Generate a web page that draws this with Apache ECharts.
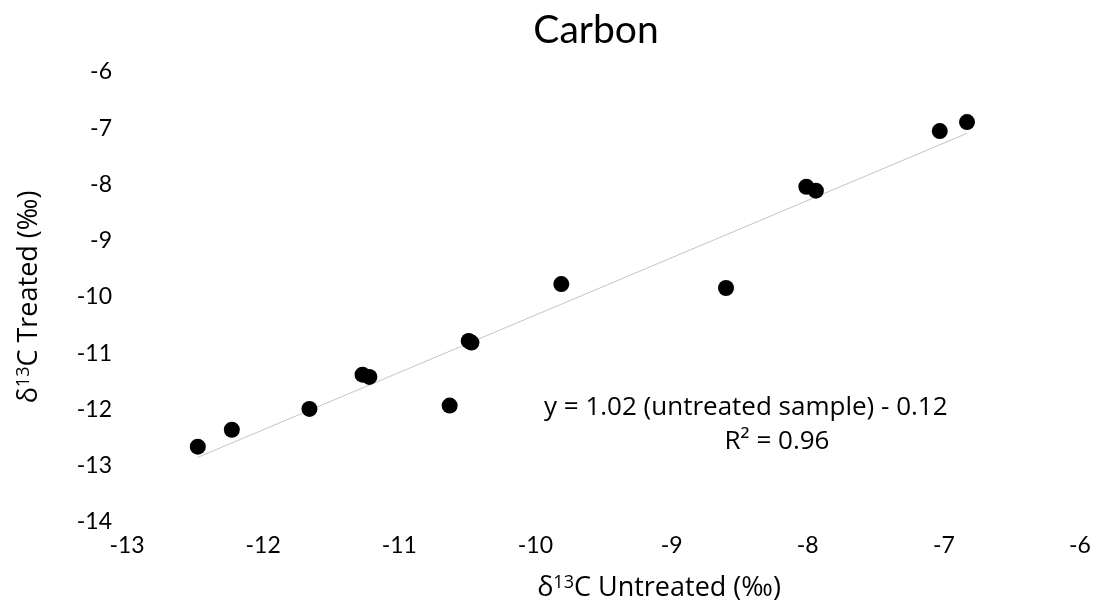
<!DOCTYPE html>
<html>
<head>
<meta charset="utf-8">
<script src="https://cdn.jsdelivr.net/npm/echarts@6/dist/echarts.min.js"></script>
<style>html,body{margin:0;padding:0;background:#fff}#c{width:1097px;height:609px}</style>
</head>
<body>
<div id="c"></div>
<script>
const untreated = [-12.48, -12.23, -11.66, -11.27, -11.22, -10.63, -10.49, -10.47, -9.81, -8.60, -8.01, -7.94, -7.03, -6.83];
const treated   = [-12.66, -12.36, -11.99, -11.38, -11.42, -11.93, -10.78, -10.81, -9.77, -9.84, -8.04, -8.11, -7.05, -6.89];
const trendX = [-12.48, -6.83];
const trendY = [-12.85, -7.09];
const titleText = 'Carbon';
const xTitleParts = ['δ', '13', 'C Untreated (‰)'];
const yTitleParts = ['δ', '13', 'C Treated (‰)'];
const eqText = 'y = 1.02 (untreated sample) - 0.12';
const r2Text = 'R² = 0.96';

const FONT = 'Lato, "Open Sans", sans-serif';
const TFONT = '"Open Sans", Lato, sans-serif';
const richTitle = {
  n: {fontFamily: TFONT, fontSize: 27, color: '#000'},
  s: {fontFamily: TFONT, fontSize: 18, color: '#000', verticalAlign: 'top', padding: [0, 0, 10, 0]}
};
const mk = p => '{n|' + p[0] + '}{s|' + p[1] + '}{n|' + p[2] + '}';

const chart = echarts.init(document.getElementById('c'), null, {renderer: 'canvas'});
chart.setOption({
  animation: false,
  backgroundColor: '#fff',
  title: {
    text: titleText, left: 591, top: 6, textAlign: 'center',
    textStyle: {fontFamily: FONT, fontSize: 39, fontWeight: 'normal', color: '#000'}
  },
  grid: {left: 127, right: 17, top: 72, bottom: 87},
  xAxis: {
    type: 'value', min: -13, max: -6, interval: 1,
    axisLine: {show: false}, axisTick: {show: false}, splitLine: {show: false},
    axisLabel: {fontFamily: FONT, fontSize: 23, color: '#000', margin: 12}
  },
  yAxis: {
    type: 'value', min: -14, max: -6, interval: 1,
    name: mk(yTitleParts), nameLocation: 'middle', nameGap: 84, nameRotate: 90,
    nameTextStyle: {rich: richTitle},
    axisLine: {show: false}, axisTick: {show: false}, splitLine: {show: false},
    axisLabel: {fontFamily: FONT, fontSize: 23, color: '#000', margin: 15}
  },
  series: [
    {
      type: 'line',
      data: trendX.map((x, i) => [x, trendY[i]]),
      symbol: 'none',
      lineStyle: {color: '#c4c4c4', width: 1},
      z: 1
    },
    {
      type: 'scatter',
      data: untreated.map((x, i) => [x, treated[i]]),
      symbol: 'circle', symbolSize: 16,
      itemStyle: {color: '#000', opacity: 1},
      z: 2
    }
  ],
  graphic: [
    {type: 'text', x: 659, y: 588, style: {text: mk(xTitleParts), rich: richTitle, align: 'center', verticalAlign: 'middle'}},
    {type: 'text', x: 544, y: 408, style: {text: eqText, font: '26px "Open Sans", sans-serif', fill: '#000', verticalAlign: 'middle'}},
    {type: 'text', x: 777, y: 442, style: {text: r2Text, font: '26px "Open Sans", sans-serif', fill: '#000', align: 'center', verticalAlign: 'middle'}}
  ]
});
</script>
</body>
</html>
